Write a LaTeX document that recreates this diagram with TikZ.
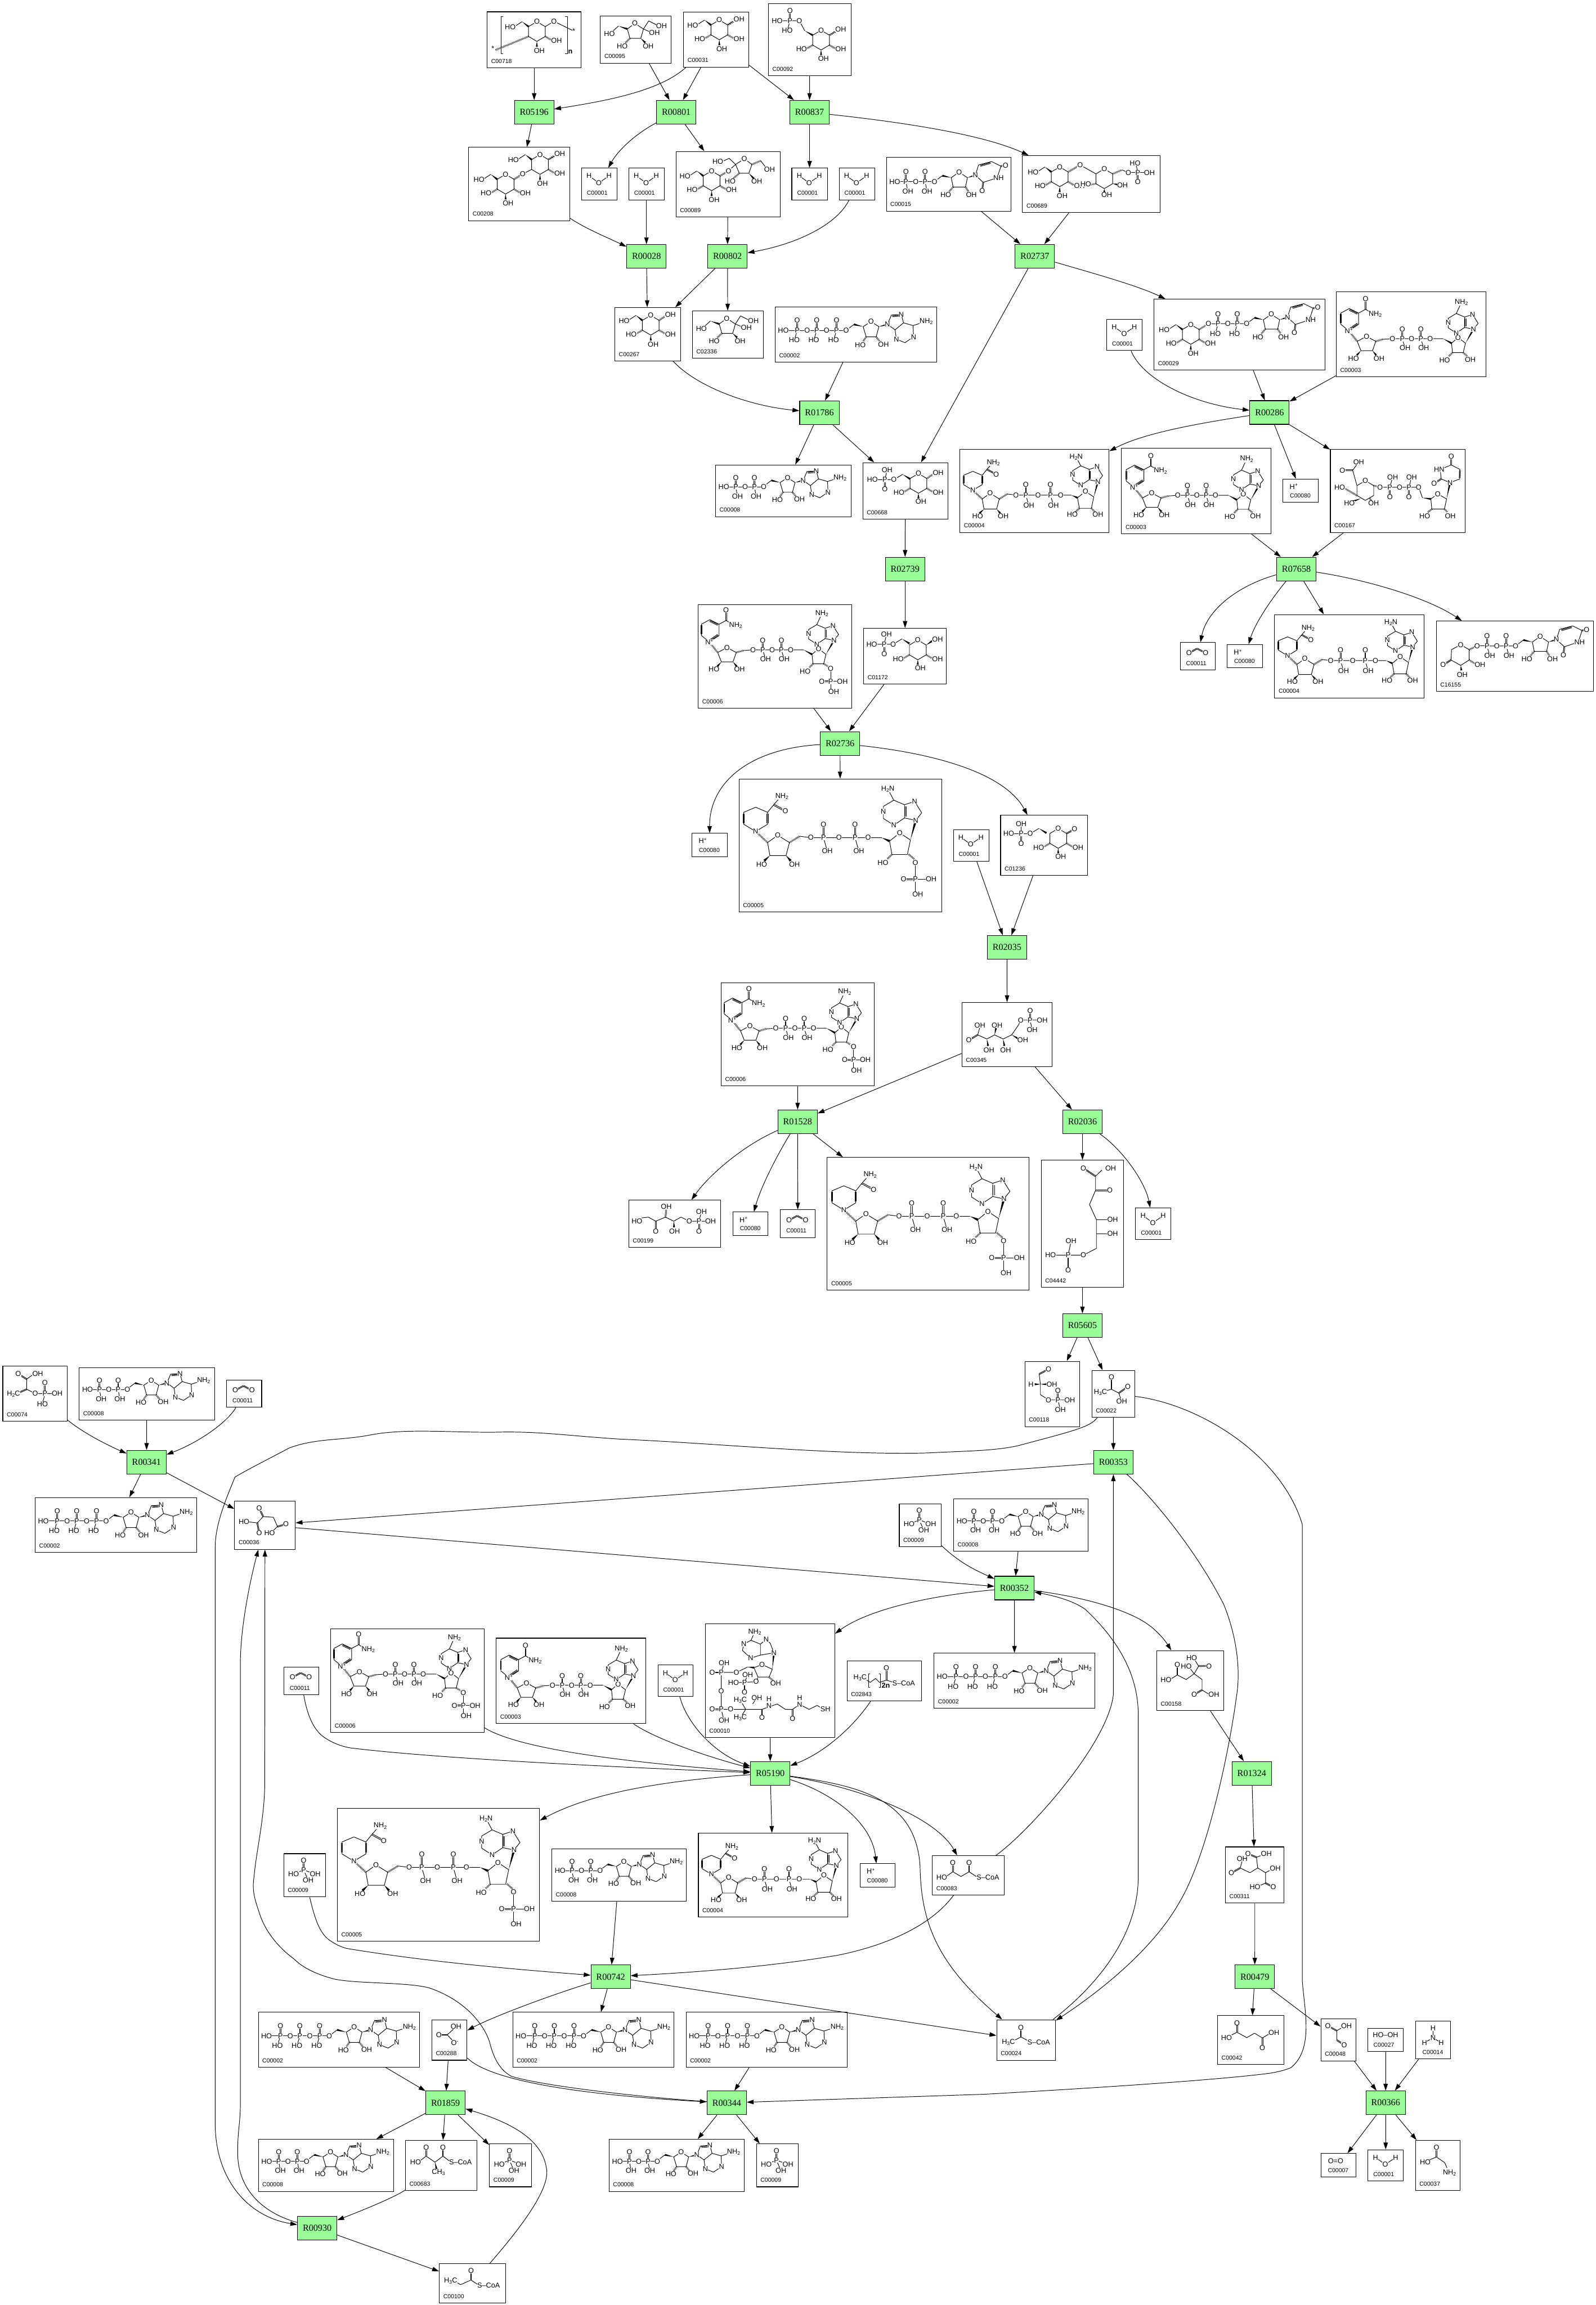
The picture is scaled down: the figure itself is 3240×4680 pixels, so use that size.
\documentclass[tikz,border=0pt]{standalone}
\usepackage{fontspec}
\setmainfont{Liberation Sans}
\newfontfamily\rxnfont{Liberation Serif}
\usetikzlibrary{calc,arrows.meta,decorations.pathmorphing}
\definecolor{rxngreen}{RGB}{152,251,152}
\newcount\txc
\tikzset{
 rxn/.style={draw=black,fill=rxngreen,line width=1.2pt,minimum width=80pt,minimum height=48pt,inner sep=0pt,font=\rxnfont\fontsize{18.5}{20}\selectfont},
 cbox/.style={draw=black,line width=1.2pt,inner sep=0pt},
 cid/.style={inner sep=0pt,font=\fontsize{12}{13}\selectfont},
 atm/.style={inner sep=.4pt,fill=white,font=\fontsize{14.5}{15}\selectfont},
 bd/.style={line width=1.1pt,line join=round},
 e/.style={line width=1.1pt,-{Triangle[length=14pt,width=9pt]}}
}
\newcommand\Pl[1]{\draw[bd] #1;}
\newcommand\Db[4]{\draw[bd] ($(#1,#2)!1pt!90:(#3,#4)$) -- ($(#3,#4)!1pt!-90:(#1,#2)$);\draw[bd] ($(#1,#2)!1pt!-90:(#3,#4)$) -- ($(#3,#4)!1pt!90:(#1,#2)$);}
\newcommand\Wg[4]{\fill (#1,#2) -- ($(#3,#4)!2pt!90:(#1,#2)$) -- ($(#3,#4)!2pt!-90:(#1,#2)$) -- cycle;}
\newcommand\Hs[4]{\draw[line width=3.6pt,dash pattern=on .9pt off 1.4pt] (#1,#2) -- (#3,#4);}
\newcommand\Wv[4]{\draw[line width=1pt,decorate,decoration={zigzag,amplitude=1.6pt,segment length=3.5pt}] (#1,#2) -- (#3,#4);}
\newcommand\Tx[3]{\global\advance\txc by 1 \node[atm] (t\the\txc) at (#1,#2) {#3};}
\newcommand\gobA[1]{}
\newcommand\gobC[3]{}
\newcommand\gobD[4]{}
\newcommand\sbb[1]{\raisebox{-2.5pt}{\fontsize{10}{10}\selectfont #1}}
\newcommand\spp[1]{\raisebox{5pt}{\fontsize{10}{10}\selectfont #1}}
\newcommand\Phs[5]{\Db{#1}{#2}{#1}{#2-#3}\Pl{(#1,#2)--(#1+#5,#2+#3)}\Tx{#1}{#2}{P}\Tx{#1}{#2-#3}{O}\Tx{#1+#5}{#2+#3}{#4}}
\newcommand\Ura[2]{\begin{scope}[shift={(#1,#2)}]
\Pl{(0,0)--(6.5,-20.7)--(33,-27.7)--(52,-18.3)--(44.3,5.3)--(16,14.6)--cycle}
\Db{10}{-19}{31}{-25}\Db{52}{-18.3}{61.3}{-19.9}\Db{16}{14.6}{14}{31.3}
\Tx{0}{0}{N}\Tx{61.3}{-19.9}{O}\Tx{47}{5.3}{NH}\Tx{14}{31.3}{O}
\end{scope}}
\newcommand\AdoH[3]{\begin{scope}[shift={(#1,#2)},scale=#3]
\Pl{(0,0)--(16,10.2)--(10.4,31)--(-9.8,31)--(-16,10.2)--cycle}
\Tx{0}{0}{O}
\Pl{(-34.6,5.7)--(-50.6,17.8)}\Wg{-16}{10.2}{-34.6}{5.7}
\Hs{-9.8}{31}{-16}{40}\Tx{-21.8}{47}{HO}
\Hs{10.4}{31}{18}{40}\Tx{25.4}{46}{OH}
\Wg{16}{10.2}{33.4}{5.7}
\Pl{(33.4,5.7)--(41.4,-13.3)--(61.4,-14.7)--(66,2.5)--(48.8,16.6)--cycle}
\Pl{(66,2.5)--(85.4,8)--(86.4,31)--(68.9,42.7)--(51.6,35.7)--(48.8,16.6)}
\Pl{(85.4,8)--(110.4,0)}\Db{43}{-11}{59}{-12}
\Tx{33.4}{5.7}{N}\Tx{61.4}{-14.7}{N}\Tx{86.4}{31}{N}\Tx{51.6}{35.7}{N}\Tx{112}{0}{NH\sbb{2}}
\end{scope}}
\newcommand\AdV[4]{\begin{scope}[shift={(#1)}]
\Pl{(0,0)--(9.5,-12)--(-1.8,-30)--(-17.8,-24.8)--(-17.8,-3.8)--cycle}
\Pl{(-17.8,-24.8)--(-34.8,-32)--(-51.3,-22.2)--(-51.3,-3)--(-34.8,7.6)--(-17.8,-3.8)}
\Pl{(-34.8,-32)--(#2,#3)}\Db{-16}{-22}{-16}{-6}
\Tx{0}{0}{N}\Tx{-1.8}{-30}{N}\Tx{-51.3}{-14}{N}\Tx{-34.8}{7.6}{N}\Tx{#2}{#3}{#4}
\end{scope}}
\newcommand\GlcCore[2]{\begin{scope}[shift={(#1,#2)}]
\Pl{(0,-20)--(17,-10)--(17,10)--(0,20)--(-17,10)--(-17,-10)--cycle}
\Tx{0}{-20}{O}\Wg{-30}{-20}{-17}{-10}\Pl{(-30,-20)--(-44,-11)}\Tx{-54}{-9}{HO}
\Wg{0}{20}{0}{31}\Tx{5}{38.6}{OH}\end{scope}}
\newcommand\GlcL[2]{\begin{scope}[shift={(#1,#2)}]\Hs{-17}{10}{-29}{17}\Tx{-39.6}{18}{HO}\end{scope}}
\newcommand\GlcRb[2]{\begin{scope}[shift={(#1,#2)}]\Hs{17}{10}{29}{17}\Tx{40}{18}{OH}\end{scope}}
\newcommand\GlcWv[2]{\begin{scope}[shift={(#1,#2)}]\Wv{17}{-10}{30}{-18}\Tx{40}{-22}{OH}\end{scope}}
\newcommand\GlcHs[2]{\begin{scope}[shift={(#1,#2)}]\Hs{17}{-10}{29}{-18}\Tx{40}{-22}{OH}\end{scope}}
\newcommand\GlcWg[2]{\begin{scope}[shift={(#1,#2)}]\Wg{17}{-10}{29}{-18}\Tx{40}{-22}{OH}\end{scope}}
\newcommand\Rg[2]{\begin{scope}[shift={(#1,#2)}]
\Pl{(0,-20)--(17,-10)--(17,10)--(0,20)--(-17,10)--(-17,-10)--cycle}\Tx{0}{-20}{O}
\Wg{0}{20}{0}{30}\Tx{5}{37}{OH}\end{scope}\GlcL{#1}{#2}\GlcRb{#1}{#2}}
\newcommand\UDPt[4]{\begin{scope}[shift={(#1,#2)}]
\Pl{(0,0)--(58,0)--(74,-12)}
\Phs{0}{0}{20}{#3}{#4}\Tx{20}{0}{O}\Phs{39}{0}{20}{#3}{#4}\Tx{58}{0}{O}
\Wg{92}{-8}{74}{-12}
\Pl{(108,-19)--(125,-8)--(121,11)--(96,11)--(92,-8)--cycle}
\Tx{108}{-19}{O}
\Hs{96}{11}{88}{20}\Tx{81}{27}{HO}
\Hs{121}{11}{127}{20}\Tx{133}{27}{OH}
\Wg{125}{-8}{141}{-13}
\Ura{141}{-13}
\end{scope}}
\newcommand\mWat{\Pl{(15.3,15.7)--(35.2,30)--(56,15.7)}\Tx{15.3}{15.7}{H}\Tx{35.2}{30}{O}\Tx{56}{15.7}{H}}
\newcommand\mHp{\Tx{21.7}{15.3}{H\spp{+}}}
\newcommand\mCOO{\Db{17.9}{21}{34.4}{12.2}\Db{34.4}{12.2}{51.7}{21}\Tx{17.9}{21}{O}\Tx{51.7}{21}{O}}
\newcommand\mPi{\Db{40.6}{14}{40.6}{33}\Pl{(20,41.5)--(40.6,33)--(64,41.5)}\Pl{(40.6,33)--(49.7,54)}\Tx{40.6}{14}{O}\Tx{40.6}{33}{P}\Tx{20}{41.5}{HO}\Tx{64}{41.5}{OH}\Tx{49.7}{54}{OH}}
\newcommand\mStarch{\Pl{(33,9.3)--(28,9.3)--(28,85.3)--(33,85.3)}\Pl{(158,9.3)--(163,9.3)--(163,85.3)--(158,85.3)}
\GlcCore{101}{40}\GlcRb{101}{40}\Hs{84}{50}{16}{78}\Tx{11.7}{74.6}{*}
\Pl{(118,30)--(135.7,19.3)--(176,39)}\Tx{135.7}{19.3}{O}\Tx{176}{39}{*}\Tx{168.9}{81}{\textbf{n}}}
\newcommand\mFru{\Pl{(69.9,15)--(87.4,26.4)--(82,45.4)--(60,45.4)--(54.6,26.4)--cycle}\Tx{69.9}{15}{O}
\Wg{36.7}{20.4}{54.6}{26.4}\Pl{(36.7,20.4)--(26,30)}\Tx{18.4}{36}{HO}
\Pl{(87.4,26.4)--(98,10)--(114,18)}\Tx{124}{20.4}{OH}\Pl{(87.4,26.4)--(100,32)}\Tx{109.7}{33.6}{OH}
\Hs{60}{45.4}{51}{54}\Tx{44.4}{61.4}{HO}\Wg{82}{45.4}{91}{54}\Tx{97}{61.4}{OH}}
\newcommand\mGlcW{\GlcCore{72.4}{35.7}\GlcL{72.4}{35.7}\GlcRb{72.4}{35.7}\GlcWv{72.4}{35.7}}
\newcommand\mAGlc{\GlcCore{72.9}{36}\GlcL{72.9}{36}\GlcRb{72.9}{36}\GlcHs{72.9}{36}}
\newcommand\mGsP{\Pl{(17.9,34.6)--(62.7,34.6)--(74,55)}\Phs{43.9}{34.6}{20}{HO}{-5.6}\Tx{62.7}{34.6}{O}\Tx{17.9}{34.6}{HO}
\Wg{74}{55}{90}{64}\Rg{107}{74}\GlcWv{107}{74}}
\newcommand\mMal{\GlcCore{144.9}{35}\GlcRb{144.9}{35}\GlcWv{144.9}{35}\GlcCore{75}{75}\GlcL{75}{75}\GlcRb{75}{75}
\Hs{92}{65}{109.7}{54.3}\Pl{(109.7,54.3)--(127.9,45)}\Tx{109.7}{54.3}{O}}
\newcommand\mSucr{\GlcCore{72.4}{59.6}\GlcL{72.4}{59.6}\GlcRb{72.4}{59.6}\Hs{89.4}{49.6}{106.6}{39.6}\Pl{(106.6,39.6)--(121,26.4)}\Tx{106.6}{39.6}{O}
\Pl{(138.8,15)--(154.2,26.4)--(148,44.3)--(128.6,44.3)--(121,26.4)--cycle}\Tx{138.8}{15}{O}
\Pl{(121,26.4)--(108,14)--(97,19)}\Tx{85}{20.4}{HO}\Hs{154.2}{26.4}{172}{19}\Pl{(172,19)--(182,32)}\Tx{190}{36.4}{OH}
\Hs{128.6}{44.3}{116}{55}\Tx{110}{61}{HO}\Wg{148}{44.3}{158}{55}\Tx{164}{61}{OH}}
\newcommand\mUDP{\Pl{(17,49.7)--(39.6,49.7)}\Tx{17}{49.7}{HO}\UDPt{39.6}{49.7}{OH}{4}}
\newcommand\mTre{\GlcCore{75.5}{43}\GlcL{75.5}{43}\GlcRb{75.5}{43}\Hs{92.5}{33}{117}{19}\Pl{(117,19)--(149,37)}\Tx{117}{19}{O}
\begin{scope}[shift={(166,47)}]
\Pl{(0,-20)--(17,-10)--(17,10)--(0,20)--(-17,10)--(-17,-10)--cycle}\Tx{0}{-20}{O}
\Wg{0}{20}{0}{28}\Tx{5}{33}{OH}\Hs{-17}{10}{-28}{12}\Tx{-37.6}{11}{HO}\Wg{17}{10}{28}{12}\Tx{37}{13.4}{OH}
\Hs{17}{-10}{36}{-18}\Pl{(36,-18)--(49,-12.6)}\end{scope}
\Pl{(215,34.4)--(257.7,34.4)}\Pl{(234,34.4)--(230,15.3)}\Db{234}{34.4}{234}{52.8}\Tx{215}{34.4}{O}\Tx{234}{34.4}{P}\Tx{228.4}{15.3}{HO}\Tx{257.7}{34.4}{OH}\Tx{234}{52.8}{O}}
\newcommand\mUDPG{\GlcCore{74.6}{71.5}\GlcL{74.6}{71.5}\GlcRb{74.6}{71.5}\Hs{91.6}{61.5}{110.4}{49.7}\Pl{(110.4,49.7)--(130,49.7)}\Tx{110.4}{49.7}{O}\UDPt{130}{49.7}{HO}{-5.5}}
\newcommand\mCsP{\Pl{(19.5,34.5)--(63,34.5)--(80.9,23.6)}\Tx{19.5}{34.5}{HO}\Pl{(44.8,34.5)--(49.4,14.7)}\Db{44.8}{34.5}{44.8}{54}\Tx{44.8}{34.5}{P}\Tx{49.4}{14.7}{OH}\Tx{44.8}{54}{O}\Tx{63}{34.5}{O}\Wg{80.9}{23.6}{96}{33}}
\newcommand\mGAsix{\mCsP\Rg{113}{42}\GlcHs{113}{42}}
\newcommand\mGBsix{\begin{scope}[shift={(-3,-2)}]\mCsP\end{scope}\Rg{110}{44}\GlcWg{110}{44}}
\newcommand\mLact{\begin{scope}[shift={(-3,3)}]\Pl{(19.5,34.5)--(63,34.5)--(80.9,23.6)}\Tx{19.5}{34.5}{HO}\Pl{(44.8,34.5)--(44.8,14.7)}\Db{44.8}{34.5}{44.8}{54}\Tx{44.8}{34.5}{P}\Tx{44.8}{14.7}{OH}\Tx{44.8}{54}{O}\Tx{63}{34.5}{O}\Wg{80.9}{23.6}{96}{33}\end{scope}
\begin{scope}[shift={(117,47)}]\Pl{(0,-20)--(17,-10)--(17,10)--(0,20)--(-17,10)--(-17,-10)--cycle}\Tx{0}{-20}{O}\Db{17}{-10}{30}{-17}\Tx{33}{-19}{O}\Wg{0}{20}{0}{30}\Tx{5}{37}{OH}\end{scope}\GlcL{117}{47}\GlcRb{117}{47}}
\newcommand\mATP{\Pl{(16.6,47.8)--(144,47.8)}\Tx{16.6}{47.8}{HO}\Phs{44.8}{47.8}{20}{HO}{-6}\Tx{64.9}{47.8}{O}\Phs{84.4}{47.8}{20}{HO}{-6}\Tx{104.5}{47.8}{O}\Phs{124.6}{47.8}{20}{HO}{-6}\Tx{144}{47.8}{O}\AdoH{194.6}{30}{1}}
\newcommand\mADP{\Pl{(17,44.7)--(98,44.7)}\Tx{17}{44.7}{HO}\Phs{41.3}{44.7}{19}{OH}{3.4}\Tx{60.3}{44.7}{O}\Phs{79.2}{44.7}{19}{OH}{3.4}\Tx{98}{44.7}{O}\AdoH{146.4}{26}{.95}}
\newcommand\NADHmain{\Pl{(26.4,83.4)--(7.5,72)--(7.5,53)--(26.4,45)--(45.3,53)--(45.3,72)--cycle}\Db{7.5}{70}{7.5}{55}\Db{45.3}{55}{45.3}{70}
\Pl{(45.3,53)--(55,41)--(62,33)}\Db{55}{41}{73.6}{51}\Tx{68}{27.5}{NH\sbb{2}}\Tx{73.6}{51}{O}\Tx{26.4}{83.4}{N}
\Hs{26.4}{83.4}{45.3}{101}\Pl{(61.4,89.5)--(80,101)--(74.6,121.6)--(49,121.6)--(45.3,101)--cycle}\Tx{61.4}{89.5}{O}
\Wg{49}{121.6}{40}{130}\Wg{74.6}{121.6}{82}{130}\Tx{36}{135.4}{HO}\Tx{88}{135.4}{OH}
\Hs{80}{101}{96.3}{91}\Pl{(96.3,91)--(114,93.3)--(226.5,93.3)}\Tx{114}{93.3}{O}
\Phs{134}{93.3}{21}{OH}{6}\Tx{158.6}{93.3}{O}\Phs{184}{93.3}{21}{OH}{6}\Tx{204.8}{93.3}{O}
\Wg{226.5}{93.3}{238.8}{98.7}\Pl{(254.9,85.7)--(271.9,97)--(267,120)--(242.6,120)--(238.8,98.7)--cycle}\Tx{254.9}{85.7}{O}
\Hs{242.6}{120}{235}{127}\Tx{228.3}{133}{HO}\Wg{271.9}{97}{280.3}{65.8}\AdV{280.3,65.8}{-44.3}{-49.8}{H\sbb{2}N}}
\newcommand\mNADH{\NADHmain\Hs{267}{120}{274}{127}\Tx{280.3}{133}{OH}}
\newcommand\mNADPH{\begin{scope}[scale=1.28]\NADHmain\end{scope}\Hs{344.4}{153}{356}{163}\Pl{(358,170)--(358,234)}\Pl{(358,204)--(390,204)}\Db{334}{204}{358}{204}\Tx{358}{170}{O}\Tx{358}{204}{P}\Tx{334}{204}{O}\Tx{390}{204}{OH}\Tx{363}{234.6}{OH}}
\newcommand\NADmain{\Pl{(26.4,34.4)--(45.3,43.6)--(45.3,66.6)--(25.5,79.6)--(9.4,66.6)--(9.4,43.6)--cycle}\Db{26.4}{37}{43}{45}\Db{9.4}{64}{9.4}{46}\Db{43}{65}{27}{76}
\Pl{(45.3,43.6)--(59.5,36)--(71,43)}\Db{59.5}{36}{59.5}{15.3}\Tx{59.5}{15.3}{O}\Tx{79}{45.9}{NH\sbb{2}}\Tx{25.5}{79.6}{N\spp{+}}
\Hs{25.5}{79.6}{42.5}{101}\Pl{(61.4,91)--(80.2,101)--(73.6,120)--(50,120)--(42.5,101)--cycle}\Tx{61.4}{91}{O}
\Wg{50}{120}{42}{129}\Wg{73.6}{120}{81}{129}\Tx{35}{135.4}{HO}\Tx{86.8}{135.4}{OH}
\Hs{80.2}{101}{94.4}{97}\Pl{(94.4,97)--(114.2,95.6)--(217,95.6)}\Tx{114.2}{95.6}{O}
\Phs{134}{95.6}{19}{OH}{5.7}\Tx{153}{95.6}{O}\Phs{171.8}{95.6}{19}{OH}{5.7}\Tx{190.7}{95.6}{O}
\Wg{217}{95.6}{234}{104.8}\Pl{(247.3,93.3)--(262.4,104.8)--(257.7,124)--(236,124)--(234,104.8)--cycle}\Tx{247.3}{93.3}{O}
\Hs{236}{124}{228}{132}\Tx{220}{139}{HO}\Wg{262.4}{104.8}{278.5}{76.5}\AdV{278.5,76.5}{-24.5}{-54.5}{NH\sbb{2}}}
\newcommand\mNAD{\NADmain\Hs{257.7}{124}{266}{131}\Tx{272}{137.7}{OH}}
\newcommand\mNADP{\begin{scope}[shift={(-3,-4)}]\NADmain\end{scope}\Hs{254.7}{120}{265}{126}\Pl{(269,129.5)--(269,177)}\Pl{(269,155.6)--(292.8,155.6)}\Db{251}{155.6}{269}{155.6}\Tx{269}{129.5}{O}\Tx{269}{155.6}{P}\Tx{251}{155.6}{O}\Tx{292.8}{155.6}{OH}\Tx{275}{177}{OH}}
\newcommand\mUGA{\begin{scope}[shift={(71,84)}]\Pl{(0,-20)--(17,-10)--(17,10)--(0,20)--(-17,10)--(-17,-10)--cycle}\Tx{0}{-20}{O}\end{scope}
\Pl{(54,74)--(45.3,42.8)--(57.5,26)}\Db{45.3}{42.8}{24.5}{42.8}\Tx{57.5}{26}{OH}\Tx{24.5}{42.8}{O}
\Hs{54}{94}{30}{80}\Tx{18.9}{77.3}{HO}\Wg{62}{100}{46}{106}\Tx{38.7}{110}{HO}\Hs{80}{100}{84}{106}\Tx{87.8}{110}{OH}
\Hs{88}{74}{101}{77.3}\Pl{(101,77.3)--(179.3,77.3)--(187,98.7)}\Tx{101}{77.3}{O}
\Pl{(120.8,77.3)--(126.5,56.6)}\Db{120.8}{77.3}{120.8}{97}\Tx{120.8}{77.3}{P}\Tx{126.5}{56.6}{OH}\Tx{120.8}{97}{O}\Tx{140.6}{77.3}{O}
\Pl{(159.5,77.3)--(165,56.6)}\Db{159.5}{77.3}{159.5}{97}\Tx{159.5}{77.3}{P}\Tx{165}{56.6}{OH}\Tx{159.5}{97}{O}\Tx{179.3}{77.3}{O}
\Wg{187}{98.7}{204}{101}\Pl{(218,91)--(236,101)--(231.6,121.6)--(206,121.6)--(204,101)--cycle}\Tx{218}{91}{O}
\Hs{206}{121.6}{198}{128}\Tx{191.6}{135.4}{HO}\Hs{231.6}{121.6}{238}{128}\Tx{243.5}{135.4}{OH}\Wg{236}{101}{243}{68}
\Pl{(243,68)--(262.6,60.4)--(263,41)--(245.4,32)--(223,41)--(225,60.4)--cycle}\Db{245.4}{32}{245.4}{14.5}\Db{225}{60.4}{210.5}{69.6}\Db{262.6}{58}{263}{43}
\Tx{243}{68}{N}\Tx{245.4}{14.5}{O}\Tx{221}{41}{HN}\Tx{210.5}{69.6}{O}}
\newcommand\mUkG{\Pl{(30,79)--(31,58)--(49.7,48)--(66.8,58)--(66.8,79)--(49.7,90)--cycle}\Db{30}{79}{14}{89}\Tx{14}{89}{O}\Tx{49.7}{48}{O}\Hs{66.8}{58}{83}{50.5}\Pl{(83,50.5)--(103,50.5)}\Tx{83}{50.5}{O}
\Wg{49.7}{90}{51}{100}\Tx{52.8}{108.7}{OH}\Hs{66.8}{79}{78}{86}\Tx{88.7}{88.8}{OH}\UDPt{103}{50.5}{OH}{5.6}}
\newcommand\mRuP{\Pl{(26,36)--(39.8,34.5)--(54.7,42.7)--(74.6,34.5)--(91.2,42.7)--(106,34.5)--(122.7,42.7)--(166,42.7)}\Tx{16.6}{42.7}{HO}\Db{54.7}{42.7}{54.7}{63}\Tx{54.7}{63}{O}\Hs{74.6}{34.5}{76}{20}\Tx{76.2}{13.4}{OH}\Wg{91.2}{42.7}{92}{55}\Tx{93}{63}{OH}\Tx{122.7}{42.7}{O}
\Pl{(142.6,42.7)--(147.6,22.9)}\Db{142.6}{42.7}{142.6}{63}\Tx{142.6}{42.7}{P}\Tx{147.6}{22.9}{OH}\Tx{166}{42.7}{OH}\Tx{142.6}{63}{O}}
\newcommand\mFour{\Pl{(110.3,32.5)--(123,20)}\Db{110.3}{32.5}{85.4}{16}\Tx{85.4}{16}{O}\Tx{141}{16}{OH}\Pl{(110.3,32.5)--(110.3,61)--(98,90)--(112,120.6)--(112,179)--(85.4,192.7)--(19,192.7)}\Db{110.3}{61}{139.3}{61}\Tx{139.3}{61}{O}\Pl{(112,120.6)--(145,120.6)}\Tx{145}{120.6}{OH}\Pl{(112,149)--(145,149)}\Tx{145}{149}{OH}
\Tx{85.4}{192.7}{O}\Tx{54.7}{192.7}{P}\Pl{(54.7,192.7)--(60.5,164)}\Tx{60.5}{164}{OH}\Tx{19}{192.7}{HO}\Db{54.7}{192.7}{54.7}{222.7}\Tx{54.7}{222.7}{O}}
\newcommand\mSixPG{\Pl{(32,65.7)--(50.6,74)--(66.3,65.7)--(83.7,74)--(101,65.7)--(115,45.3)--(119.4,35.7)--(163,35.7)}\Db{32}{65.7}{14}{76.6}\Pl{(32,65.7)--(36.5,50)}\Tx{14}{76.6}{O}\Tx{36.5}{46}{OH}
\Wg{50.6}{74}{53}{88}\Tx{54.7}{96.3}{OH}\Wg{66.3}{65.7}{69}{52}\Tx{71.3}{46}{OH}\Wg{83.7}{74}{86}{88}\Tx{88.7}{96.3}{OH}\Wg{101}{65.7}{114}{73}\Tx{123.5}{76}{OH}
\Tx{119.4}{35.7}{O}\Db{138.4}{35.7}{138.4}{16.6}\Pl{(138.4,35.7)--(142.6,55.5)}\Tx{138.4}{35.7}{P}\Tx{138.4}{16.6}{O}\Tx{163}{35.7}{OH}\Tx{142.6}{55.5}{OH}}
\newcommand\mTP{\Db{29}{26}{48}{16}\Pl{(29,26)--(31.5,46.6)--(31.5,67.6)--(48,78.5)--(91,78.5)}\Wg{31.5}{46.6}{20}{46.6}\Wg{31.5}{46.6}{45}{46.6}\Tx{48}{16}{O}\Tx{12.4}{46.6}{H}\Tx{54.7}{46.6}{OH}\Tx{48}{78.5}{O}\Db{67}{78.5}{67}{60}\Pl{(67,78.5)--(72,98)}\Tx{67}{78.5}{P}\Tx{67}{60}{O}\Tx{91}{78.5}{OH}\Tx{72}{98}{OH}}
\newcommand\mPyr{\Db{39.8}{14}{39.8}{38.3}\Pl{(26,42)--(39.8,38.3)--(54.7,46)--(60.5,62.8)}\Db{54.7}{46}{73}{33}\Tx{39.8}{14}{O}\Tx{17.4}{44}{H\sbb{3}C}\Tx{73}{33}{O}\Tx{60.5}{62.8}{OH}}
\newcommand\mPEP{\Db{31.3}{15.8}{48.5}{26.5}\Pl{(60,18)--(48.5,26.5)--(48.5,47)--(65.7,55.6)--(110.3,55.6)}\Db{48.5}{47}{30}{55}\Tx{31.3}{15.8}{O}\Tx{71}{15.8}{OH}\Tx{21.7}{56.6}{H\sbb{2}C}\Tx{65.7}{55.6}{O}\Db{85.5}{55.6}{85.5}{34}\Pl{(85.5,55.6)--(80.4,77.5)}\Tx{85.5}{55.6}{P}\Tx{85.5}{34}{O}\Tx{110.3}{55.6}{OH}\Tx{80.4}{77.5}{HO}}
\newcommand\mOAA{\Db{49.7}{14.8}{58}{31.6}\Pl{(58,31.6)--(46,44.4)--(28,42.3)}\Db{46}{44.4}{49.7}{64.8}\Pl{(58,31.6)--(78.7,33)--(87,52)--(76,62)}\Db{87}{52}{104}{47}\Tx{49.7}{14.8}{O}\Tx{19}{42.3}{HO}\Tx{49.7}{64.8}{O}\Tx{104}{47}{O}\Tx{71}{64.8}{HO}}
\newcommand\mCoA{\Pl{(75.4,54.2)--(78,41.5)--(92.8,33.8)--(111.9,41.5)--(111.9,63.8)--(92,70)--cycle}\Pl{(111.9,41.5)--(123.5,32)--(131.8,40)--(139.3,59.3)--(111.9,63.8)}\Pl{(92.8,33.8)--(100.3,16.6)}\Tx{100.3}{16.6}{NH\sbb{2}}\Tx{78}{41.5}{N}\Tx{92}{70}{N}\Tx{123.5}{32}{N}\Tx{139.3}{59.3}{N}
\Wg{136}{92.5}{139.3}{59.3}\Pl{(115.2,83)--(136,92.5)--(129.5,108.5)--(107,108.5)--(98.7,89.3)--cycle}\Tx{115.2}{83}{O}\Wg{86}{88}{98.7}{89.3}
\Hs{129.5}{108.5}{138}{116}\Tx{142.8}{121}{OH}\Wg{107}{108.5}{103}{118}\Pl{(103,118)--(57.2,120)}\Tx{103}{118}{O}\Db{79.6}{120}{79.6}{139}\Pl{(79.6,120)--(86,104)}\Tx{79.6}{120}{P}\Tx{86}{104}{OH}\Tx{57.2}{120}{HO}\Tx{79.6}{139}{O}
\Pl{(86,88)--(63,99)--(32.3,99)--(32.3,174)--(115,174)--(129.3,169)--(146,163)--(162.5,174)--(177,174)--(191.5,164)--(210.6,174)--(227,166)--(240,174)}\Pl{(32.3,99)--(38.1,80)}\Db{32.3}{99}{14}{99}\Tx{63}{99}{O}\Tx{32.3}{99}{P}\Tx{38.1}{80}{OH}\Tx{14}{99}{O}\Tx{32.3}{137}{O}
\Db{32.3}{174}{14}{174}\Pl{(32.3,174)--(38,196.5)}\Tx{32.3}{174}{P}\Tx{14}{174}{O}\Tx{38}{196.5}{OH}\Tx{51.4}{174}{O}\Pl{(82,174)--(71,155)}\Pl{(82,174)--(71,191)}\Tx{71}{155}{H\sbb{3}C}\Tx{71}{191}{H\sbb{3}C}\Pl{(96,163)--(104.5,151)}\Tx{104.5}{151}{OH}\Db{115}{174}{115}{191}\Tx{115}{191}{O}\Tx{129.3}{167}{N}\Tx{129.3}{153}{H}\Db{177}{174}{177}{193}\Tx{177}{193}{O}\Tx{191.5}{164}{N}\Tx{191.5}{151}{H}\Tx{243.7}{174}{SH}}
\newcommand\mLong{\Pl{(36,37)--(47,44)--(58,36)--(66,44)--(80,39.5)--(98,45)}\Pl{(47,26.8)--(44,26.8)--(44,54)--(47,54)}\Pl{(65,26.8)--(68,26.8)--(68,54)--(65,54)}\Db{80}{39.5}{80}{15.3}\Tx{26.5}{34.4}{H\sbb{3}C}\Tx{80}{15.3}{O}\Tx{78.7}{50}{\textbf{2n}}\Tx{115}{45.3}{S–CoA}}
\newcommand\mMalCoA{\Pl{(28,42)--(41.5,32.5)--(58,42)--(74.6,32.5)--(92,44)}\Db{41.5}{32.5}{41.5}{14}\Db{74.6}{32.5}{74.6}{14}\Tx{41.5}{14}{O}\Tx{74.6}{14}{O}\Tx{19}{44}{HO}\Tx{112.7}{44}{S–CoA}}
\newcommand\mMMCoA{\Pl{(29,42)--(42,32)--(60,44.3)--(76,32)--(92,44)}\Db{42}{32}{42}{14.3}\Db{76}{32}{76}{14.3}\Wg{60}{44.3}{63}{58}\Tx{42}{14.3}{O}\Tx{76}{14.3}{O}\Tx{20.5}{44.3}{HO}\Tx{66.8}{64.3}{CH\sbb{3}}\Tx{111.6}{44.3}{S–CoA}}
\newcommand\mAcCoA{\Pl{(32,44)--(49,35)--(68,45)}\Db{49}{35}{49}{16}\Tx{49}{16}{O}\Tx{23.7}{46}{H\sbb{3}C}\Tx{85.3}{45.3}{S–CoA}}
\newcommand\mPrCoA{\Pl{(33,37)--(43,43)--(64.3,33.5)--(80,44)}\Db{64.3}{33.5}{64.3}{15}\Tx{64.3}{15}{O}\Tx{23}{35}{H\sbb{3}C}\Tx{100}{44.3}{S–CoA}}
\newcommand\mHCO{\Pl{(31.3,30.7)--(49,14.3)}\Pl{(31.3,30.7)--(46.4,47)}\Db{14.3}{30.7}{31.3}{30.7}\Tx{49}{14.3}{OH}\Tx{14.3}{30.7}{O}\Tx{46.4}{47}{O\spp{-}}}
\newcommand\mCit{\Pl{(85,31.6)--(76,47)--(59.7,58.7)--(41.8,49.5)--(28,58)}\Pl{(85,31.6)--(78,20)}\Pl{(76,47)--(66,34)}\Pl{(76,47)--(92,58.7)--(92,80)--(105,88)}\Db{85}{31.6}{106}{31.6}\Db{41.8}{49.5}{41.8}{29}\Db{92}{80}{76}{89}\Tx{71}{14.8}{HO}\Tx{106}{31.6}{O}\Tx{60}{31.6}{HO}\Tx{41.8}{29}{O}\Tx{18.9}{59.7}{HO}\Tx{76}{89}{O}\Tx{116}{89}{OH}}
\newcommand\mIso{\Pl{(30,42.7)--(34,28)}\Db{30}{42.7}{11.9}{53}\Pl{(30,42.7)--(49.8,52.3)--(65.5,42.7)--(81.4,52.3)--(81.4,73.4)--(66,80)}\Pl{(65.5,42.7)--(63,21)--(76,16)}\Db{63}{21}{45.8}{14}\Pl{(81.4,52.3)--(95,45)}\Db{81.4}{73.4}{97}{81.7}\Tx{34}{23.6}{OH}\Tx{11.9}{53}{O}\Tx{45.8}{14}{O}\Tx{83}{14}{OH}\Tx{101}{43.4}{OH}\Tx{97}{81.7}{O}\Tx{60}{81.7}{HO}}
\newcommand\mSuccin{\Pl{(27,40)--(39.5,33.8)--(59.3,44.7)--(75,35.7)--(90.9,45.3)--(105,37)}\Db{39.5}{33.8}{39.5}{14.7}\Db{90.9}{45.3}{90.9}{65}\Tx{39.5}{14.7}{O}\Tx{18.2}{44.7}{HO}\Tx{90.9}{65}{O}\Tx{114.5}{35}{OH}}
\newcommand\mGly{\Pl{(42,18)--(32.4,23.6)}\Db{14.2}{14}{32.4}{23.6}\Pl{(32.4,23.6)--(32.4,42.7)}\Db{32.4}{42.7}{47.4}{52.3}\Tx{14.2}{14}{O}\Tx{52}{14}{OH}\Tx{47.4}{52.3}{O}}
\newcommand\mHOOH{\Tx{35.6}{14}{HO–OH}}
\newcommand\mAmm{\Pl{(35.6,14)--(35.6,33.8)}\Pl{(18.2,43.4)--(35.6,33.8)--(52.2,43.4)}\Tx{35.6}{14}{H}\Tx{35.6}{33.8}{N}\Tx{18.2}{43.4}{H}\Tx{52.2}{43.4}{H}}
\newcommand\mOO{\Tx{30}{14.7}{O=O}}
\newcommand\mGlycine{\Pl{(28,40)--(42.7,33.8)--(59.3,45.3)--(64,56)}\Db{42.7}{33.8}{42.7}{14.7}\Tx{42.7}{14.7}{O}\Tx{19.8}{44.7}{HO}\Tx{69}{65.7}{NH\sbb{2}}}
\newcommand\Cmp[8][8]{\node[cbox,minimum width={(#4-#3)*1pt},minimum height={(#6-#5)*1pt}] (#2) at ({(#3+#4)/2},{(#5+#6)/2}) {};
\begin{scope}[shift={(#3,#5)}]\let\Tx\gobC #7\end{scope}
\begin{scope}[shift={(#3,#5)}]\let\Pl\gobA\let\Db\gobD\let\Wg\gobD\let\Hs\gobD\let\Wv\gobD #7\end{scope}
\node[cid,anchor=west] (#2-id) at ({#3+#1},{#6-13.5}) {#8};}
\newcommand\Rx[3]{\node[rxn] (#1) at (#2,#3) {#1};}
\begin{document}
\begin{tikzpicture}[x=1pt,y=-1pt]
\useasboundingbox (0,0) rectangle (3240,4680);
\fill[white] (0,0) rectangle (3240,4680);
\Cmp{c718}{989}{1180}{24}{137.5}{\mStarch}{C00718}
\Cmp{c95}{1219}{1363}{32.5}{128}{\mFru}{C00095}
\Cmp{c31}{1388}{1520}{25}{136}{\mGlcW}{C00031}
\Cmp{c92}{1560}{1728}{7.5}{153.5}{\mGsP}{C00092}
\Cmp{c208}{951.5}{1156.6}{299}{448}{\mMal}{C00208}
\Cmp[10.7]{w1}{1180.6}{1252.6}{341.4}{405.7}{\mWat}{C00001}
\Cmp[10.7]{w2}{1276.5}{1348.5}{341.4}{405.7}{\mWat}{C00001}
\Cmp{c89}{1372.4}{1583.7}{307.5}{440.3}{\mSucr}{C00089}
\Cmp[10.7]{w3}{1607.6}{1679.6}{341.4}{405.7}{\mWat}{C00001}
\Cmp[10.7]{w4}{1703.6}{1775.6}{341.4}{405.7}{\mWat}{C00001}
\Cmp{c15}{1799.6}{2052.6}{319}{428.5}{\mUDP}{C00015}
\Cmp{c689}{2076}{2355.6}{316}{431.5}{\mTre}{C00689}
\Cmp{c29}{2343}{2690}{607.5}{751.4}{\mUDPG}{C00029}
\Cmp{c3a}{2713}{3017}{592}{765}{\mNAD}{C00003}
\Cmp[10.7]{w5}{2247}{2319}{648}{711.6}{\mWat}{C00001}
\Cmp{c267}{1248.3}{1381.5}{624.4}{732.8}{\mAGlc}{C00267}
\Cmp{c2336}{1405.6}{1549.6}{631.4}{727}{\mFru}{C02336}
\Cmp{c2a}{1573.8}{1901.5}{623}{735.4}{\mATP}{C00002}
\Cmp{c8a}{1452.6}{1727.6}{944}{1049}{\mADP}{C00008}
\Cmp{c668}{1751.7}{1924.5}{939.5}{1053.7}{\mGAsix}{C00668}
\Cmp{c4a}{1948.8}{2251.8}{912}{1081}{\mNADH}{C00004}
\Cmp{c3b}{2277}{2580}{910}{1083.6}{\mNAD}{C00003}
\Cmp[14]{hp1}{2604.8}{2676.5}{972.6}{1020}{\mHp}{C00080}
\Cmp{c167}{2701}{2974.8}{912}{1081}{\mUGA}{C00167}
\Cmp{c6a}{1417.6}{1729.3}{1227.8}{1437.6}{\mNADP}{C00006}
\Cmp{c1172}{1753.4}{1921.6}{1275.6}{1389}{\mGBsix}{C01172}
\Cmp[12]{co2a}{2396}{2467}{1304.7}{1360.6}{\mCOO}{C00011}
\Cmp[14]{hp2}{2491.5}{2563}{1308.6}{1356}{\mHp}{C00080}
\Cmp{c4b}{2587.8}{2890.8}{1248}{1417}{\mNADH}{C00004}
\Cmp{c16155}{2916}{3235}{1261}{1404}{\mUkG}{C16155}
\Cmp[14]{hp3}{1405}{1477}{1692}{1740}{\mHp}{C00080}
\Cmp{c5a}{1500.4}{1911.6}{1581.4}{1851.4}{\mNADPH}{C00005}
\Cmp[10.7]{w6}{1935.6}{2007.6}{1684.3}{1748.2}{\mWat}{C00001}
\Cmp{c1236}{2031.5}{2207.5}{1655.3}{1777.5}{\mLact}{C01236}
\Cmp{c6b}{1464}{1775}{1996}{2205}{\mNADP}{C00006}
\Cmp{c345}{1953}{2136.4}{2035.5}{2165.6}{\mSixPG}{C00345}
\Cmp{c199}{1276.6}{1463}{2436.7}{2532.3}{\mRuP}{C00199}
\Cmp[14]{hp4}{1488}{1559.3}{2461}{2508}{\mHp}{C00080}
\Cmp[12]{co2b}{1584}{1655.5}{2456.4}{2512.6}{\mCOO}{C00011}
\Cmp{c5b}{1679.5}{2089}{2350}{2619.7}{\mNADPH}{C00005}
\Cmp{c4442}{2114}{2281.5}{2355.7}{2614}{\mFour}{C04442}
\Cmp[10.7]{w7}{2305.5}{2377.6}{2452.6}{2516.4}{\mWat}{C00001}
\Cmp{c118}{2080.8}{2192}{2763.9}{2896.5}{\mTP}{C00118}
\Cmp{c22}{2216.8}{2303.8}{2782.4}{2877.4}{\mPyr}{C00022}
\Cmp{c74}{5.7}{136.5}{2773.7}{2885.4}{\mPEP}{C00074}
\Cmp{c8b}{160.7}{435.6}{2776.7}{2883.4}{\mADP}{C00008}
\Cmp[12]{co2c}{459.9}{531.3}{2801.7}{2857.3}{\mCOO}{C00011}
\Cmp{c2b}{71.4}{399.3}{3040.5}{3152.2}{\mATP}{C00002}
\Cmp{c36}{476.4}{599.5}{3047.6}{3145.6}{\mOAA}{C00036}
\Cmp[12]{co2d}{576}{647.4}{3384.4}{3440.5}{\mCOO}{C00011}
\Cmp{c6c}{671.6}{982.9}{3307.3}{3517.5}{\mNADP}{C00006}
\Cmp{c3c}{1007.5}{1310.9}{3326}{3499.4}{\mNAD}{C00003}
\Cmp[10.7]{w8}{1335.8}{1407}{3380.8}{3444.5}{\mWat}{C00001}
\Cmp{c10}{1432}{1694.8}{3296.6}{3528}{\mCoA}{C00010}
\Cmp{c2843}{1719.7}{1871.4}{3371.8}{3453.5}{\mLong}{C02843}
\Cmp{c2c}{1896.3}{2223}{3356.5}{3468}{\mATP}{C00002}
\Cmp{pi1}{1825.8}{1911.2}{3053}{3140.3}{\mPi}{C00009}
\Cmp{c8c}{1936}{2208.8}{3043.4}{3149.2}{\mADP}{C00008}
\Cmp{c158}{2348.5}{2484.7}{3351.3}{3473.3}{\mCit}{C00158}
\Cmp{c5c}{684.8}{1095.5}{3672}{3941.4}{\mNADPH}{C00005}
\Cmp{pi2}{576}{660.7}{3763.6}{3851.4}{\mPi}{C00009}
\Cmp{c8d}{1120.2}{1393}{3753.9}{3860.4}{\mADP}{C00008}
\Cmp{c4c}{1417.9}{1721.3}{3722}{3892.3}{\mNADH}{C00004}
\Cmp[14]{hp5}{1746.2}{1817.5}{3783.9}{3831.7}{\mHp}{C00080}
\Cmp{c83}{1893}{2038.9}{3767.9}{3847.6}{\mMalCoA}{C00083}
\Cmp{c311}{2488}{2607.3}{3749.9}{3864}{\mIso}{C00311}
\Cmp{c42}{2472}{2607.3}{4092.4}{4191.2}{\mSuccin}{C00042}
\Cmp{c48}{2681.7}{2752.8}{4099.4}{4184.2}{\mGly}{C00048}
\Cmp[11]{c27}{2777.4}{2849.3}{4117.9}{4165}{\mHOOH}{C00027}
\Cmp[14]{c14}{2873.8}{2945}{4103.9}{4180.4}{\mAmm}{C00014}
\Cmp{c24}{2023.7}{2143}{4100.7}{4183}{\mAcCoA}{C00024}
\Cmp{c2d}{524.5}{852}{4085.7}{4197}{\mATP}{C00002}
\Cmp{c288}{876.8}{948.2}{4100.7}{4182.9}{\mHCO}{C00288}
\Cmp{c2e}{1041}{1367.9}{4085.7}{4197}{\mATP}{C00002}
\Cmp{c2f}{1392.9}{1720.6}{4085.7}{4197}{\mATP}{C00002}
\Cmp{c8e}{524.5}{799.5}{4343.6}{4449.3}{\mADP}{C00008}
\Cmp{c683}{823.2}{968.8}{4345.7}{4447.9}{\mMMCoA}{C00683}
\Cmp{pi3}{993.8}{1079.5}{4352.9}{4440}{\mPi}{C00009}
\Cmp{c8f}{1236.6}{1510.8}{4343.6}{4449.3}{\mADP}{C00008}
\Cmp{pi4}{1535.8}{1620.6}{4352.9}{4440}{\mPi}{C00009}
\Cmp{c100}{892}{1026.8}{4595.7}{4675.7}{\mPrCoA}{C00100}
\Cmp[14]{co7}{2681.7}{2752.8}{4372.4}{4420.2}{\mOO}{C00007}
\Cmp[10.7]{w9}{2777.4}{2849.3}{4364.7}{4428.5}{\mWat}{C00001}
\Cmp{c37}{2873.8}{2964}{4345.6}{4447.6}{\mGlycine}{C00037}
\Rx{R05196}{1084.5}{227.8}
\Rx{R00801}{1373}{227.8}
\Rx{R00837}{1643.6}{227.8}
\Rx{R00028}{1312.5}{520.5}
\Rx{R00802}{1477}{520.5}
\Rx{R02737}{2101}{520.3}
\Rx{R00286}{2577.5}{837.5}
\Rx{R01786}{1663.6}{837.8}
\Rx{R02739}{1837.5}{1155.4}
\Rx{R07658}{2632}{1155.4}
\Rx{R02736}{1705.5}{1509.4}
\Rx{R02035}{2044.5}{1923.4}
\Rx{R01528}{1619.4}{2277.5}
\Rx{R02036}{2197.7}{2277.5}
\Rx{R05605}{2197.7}{2691.4}
\Rx{R00353}{2260.5}{2968.7}
\Rx{R00341}{297.5}{2968.5}
\Rx{R00352}{2059.5}{3224.3}
\Rx{R05190}{1563.8}{3600.5}
\Rx{R01324}{2541.5}{3600.3}
\Rx{R00742}{1239.8}{4013.5}
\Rx{R00479}{2547.6}{4013.6}
\Rx{R01859}{904.5}{4269.6}
\Rx{R00344}{1475.5}{4269.6}
\Rx{R00366}{2813.3}{4269.4}
\Rx{R00930}{644}{4523.5}
\draw[e] (c718) -- (R05196);
\draw[e] (c31) .. controls (1340,185) and (1230,205) .. (R05196);
\draw[e] (c95) -- (R00801);
\draw[e] (c31) -- (R00801);
\draw[e] (c31) -- (R00837);
\draw[e] (c92) -- (R00837);
\draw[e] (R05196) -- (c208);
\draw[e] (R00801) .. controls (1290,272) and (1255,305) .. (w1);
\draw[e] (R00801) -- (c89);
\draw[e] (R00837) -- (w3);
\draw[e] (R00837) .. controls (1850,250) and (2000,275) .. (c689);
\draw[e] (c89) -- (R00802);
\draw[e] (c208) .. controls (1190,465) and (1235,483) .. (R00028);
\draw[e] (w2) -- (R00028);
\draw[e] (w4) .. controls (1700,455) and (1620,495) .. (R00802);
\draw[e] (c15) -- (R02737);
\draw[e] (c689) -- (R02737);
\draw[e] (R00028) -- (c267);
\draw[e] (R00802) -- (c267);
\draw[e] (R00802) -- (c2336);
\draw[e] (c267) .. controls (1420,790) and (1530,825) .. (R01786);
\draw[e] (c2a) -- (R01786);
\draw[e] (R02737) -- (c668);
\draw[e] (R02737) .. controls (2220,555) and (2310,580) .. (c29);
\draw[e] (R01786) -- (c8a);
\draw[e] (R01786) -- (c668);
\draw[e] (c668) -- (R02739);
\draw[e] (R02739) -- (c1172);
\draw[e] (c1172) -- (R02736);
\draw[e] (c6a) -- (R02736);
\draw[e] (R02736) .. controls (1520,1520) and (1440,1590) .. (hp3);
\draw[e] (R02736) -- (c5a);
\draw[e] (R02736) .. controls (1900,1530) and (2040,1570) .. (c1236);
\draw[e] (w6) -- (R02035);
\draw[e] (c1236) -- (R02035);
\draw[e] (R02035) -- (c345);
\draw[e] (c345) -- (R01528);
\draw[e] (c345) -- (R02036);
\draw[e] (c6b) -- (R01528);
\draw[e] (R01528) .. controls (1510,2325) and (1440,2385) .. (c199);
\draw[e] (R01528) .. controls (1575,2350) and (1545,2410) .. (hp4);
\draw[e] (R01528) -- (co2b);
\draw[e] (R01528) -- (c5b);
\draw[e] (R02036) -- (c4442);
\draw[e] (R02036) .. controls (2280,2335) and (2325,2400) .. (w7);
\draw[e] (c4442) -- (R05605);
\draw[e] (R05605) -- (c118);
\draw[e] (R05605) -- (c22);
\draw[e] (c22) -- (R00353);
\draw[e] (w5) .. controls (2320,770) and (2420,820) .. (R00286);
\draw[e] (c29) -- (R00286);
\draw[e] (c3a) -- (R00286);
\draw[e] (R00286) .. controls (2430,860) and (2320,880) .. (c4a);
\draw[e] (R00286) -- (hp1);
\draw[e] (R00286) -- (c167);
\draw[e] (c3b) -- (R07658);
\draw[e] (c167) -- (R07658);
\draw[e] (R07658) .. controls (2510,1190) and (2450,1240) .. (co2a);
\draw[e] (R07658) .. controls (2590,1205) and (2550,1260) .. (hp2);
\draw[e] (R07658) -- (c4b);
\draw[e] (R07658) .. controls (2780,1178) and (2900,1215) .. (c16155);
\draw[e] (c22) .. controls (2215,2897) and (2180,2905) .. (2068,2935) .. controls (2020,2946) and (1960,2946) .. (1882,2950) .. controls (1700,2955) and (1450,2930) .. (1260,2922) .. controls (1150,2915) and (1090,2905) .. (1000,2908) .. controls (900,2908) and (820,2900) .. (749,2914) .. controls (690,2925) and (640,2920) .. (587,2940) .. controls (540,2965) and (500,2985) .. (477,2999) .. controls (465,3030) and (437,3090) .. (437,3140) -- (437,4307) .. controls (435,4420) and (500,4500) .. (R00930);
\draw[e] (c22) .. controls (2430,2850) and (2600,2950) .. (2644,3095) -- (2644,4021) .. controls (2648,4080) and (2668,4160) .. (2621,4198) .. controls (2605,4205) and (2590,4207) .. (2581,4209) .. controls (2500,4220) and (2300,4235) .. (2000,4252) -- (R00344);
\draw[e] (R00353) -- (c36);
\draw[e] (R00353) .. controls (2340,3040) and (2430,3150) .. (2484.7,3258) .. controls (2510,3320) and (2520,3390) .. (2510,3447) .. controls (2495,3560) and (2450,3770) .. (2395,3861.5) .. controls (2340,3960) and (2229,4046) .. (c24);
\draw[e] (c24) .. controls (2197,4055) and (2311,3950) .. (2311,3810) -- (2311,3482) .. controls (2311,3400) and (2270,3330) .. (2204,3268) .. controls (2180,3250) and (2140,3240) .. (R00352);
\draw[e] (c83) .. controls (2090,3718) and (2250,3540) .. (2260.5,3440) -- (R00353);
\draw[e] (R00352) .. controls (2220,3245) and (2300,3275) .. (2331.6,3298.8) .. controls (2350,3312) and (2365,3330) .. (c158);
\draw[e] (c158) -- (R01324);
\draw[e] (R01324) -- (c311);
\draw[e] (c311) -- (R00479);
\draw[e] (R00479) -- (c42);
\draw[e] (R00479) -- (c48);
\draw[e] (c48) -- (R00366);
\draw[e] (c27) -- (R00366);
\draw[e] (c14) -- (R00366);
\draw[e] (R00366) -- (co7);
\draw[e] (R00366) -- (w9);
\draw[e] (R00366) -- (c37);
\draw[e] (c74) .. controls (170,2910) and (220,2935) .. (R00341);
\draw[e] (c8b) -- (R00341);
\draw[e] (co2c) .. controls (460,2890) and (400,2930) .. (R00341);
\draw[e] (R00341) -- (c2b);
\draw[e] (R00341) -- (c36);
\draw[e] (c36) -- (R00352);
\draw[e] (pi1) .. controls (1950,3175) and (1985,3190) .. (R00352);
\draw[e] (c8c) -- (R00352);
\draw[e] (R00352) .. controls (1880,3240) and (1760,3270) .. (c10);
\draw[e] (R00352) -- (c2c);
\draw[e] (c10) -- (R05190);
\draw[e] (c2843) .. controls (1730,3510) and (1670,3560) .. (R05190);
\draw[e] (w8) .. controls (1395,3500) and (1450,3560) .. (R05190);
\draw[e] (c3c) .. controls (1330,3530) and (1430,3565) .. (R05190);
\draw[e] (c6c) .. controls (1060,3555) and (1300,3580) .. (R05190);
\draw[e] (co2d) .. controls (625,3490) and (640,3515) .. (659,3528) .. controls (680,3542) and (700,3547) .. (712.5,3549) .. controls (900,3572) and (1300,3590) .. (R05190);
\draw[e] (R05190) .. controls (1350,3615) and (1200,3640) .. (c5c);
\draw[e] (R05190) -- (c4c);
\draw[e] (R05190) .. controls (1690,3640) and (1770,3700) .. (hp5);
\draw[e] (R05190) .. controls (1750,3630) and (1900,3690) .. (c83);
\draw[e] (R05190) .. controls (1740,3625) and (1860,3650) .. (1868,3790) .. controls (1870,3900) and (1900,3985) .. (c24);
\draw[e] (c83) .. controls (1890,3910) and (1800,3950) .. (1700,3970) .. controls (1550,3995) and (1400,4005) .. (R00742);
\draw[e] (c8d) -- (R00742);
\draw[e] (pi2) .. controls (640,3900) and (650,3925) .. (667.8,3938.4) .. controls (680,3947) and (690,3952) .. (703.6,3956) .. controls (850,3980) and (1000,3995) .. (R00742);
\draw[e] (R00742) .. controls (1120,4050) and (1000,4095) .. (c288);
\draw[e] (R00742) -- (c2e);
\draw[e] (R00742) -- (c24);
\draw[e] (c2d) -- (R01859);
\draw[e] (c288) -- (R01859);
\draw[e] (c288) .. controls (990,4220) and (1150,4252) .. (R00344);
\draw[e] (R01859) -- (c8e);
\draw[e] (R01859) -- (c683);
\draw[e] (R01859) -- (pi3);
\draw[e] (c100) .. controls (1060,4520) and (1120,4440) .. (1109,4400) .. controls (1100,4345) and (1040,4310) .. (R01859);
\draw[e] (c683) .. controls (800,4462) and (730,4490) .. (R00930);
\draw[e] (R00930) -- (c100);
\draw[e] (c2f) -- (R00344);
\draw[e] (R00344) -- (c8f);
\draw[e] (R00344) -- (pi4);
\draw[e] (R00344) .. controls (1300,4258) and (1100,4235) .. (1038,4215.5) .. controls (1010,4200) and (1000,4170) .. (993.7,4145) .. controls (980,4105) and (940,4060) .. (873,4036.6) .. controls (830,4024) and (720,4028) .. (676.8,4017.7) .. controls (630,4005) and (610,3990) .. (596.4,3977) .. controls (560,3950) and (535,3915) .. (525,3879) .. controls (515,3850) and (512,3835) .. (516,3808.7) .. controls (520,3760) and (537.5,3690) .. (537.5,3619) -- (c36);
\draw[e] (R00930) .. controls (540,4495) and (482,4450) .. (482.6,4370) .. controls (482,4330) and (488,4310) .. (488,4271.6) -- (488,3378) .. controls (488,3300) and (510,3200) .. (c36);
\end{tikzpicture}
\end{document}
